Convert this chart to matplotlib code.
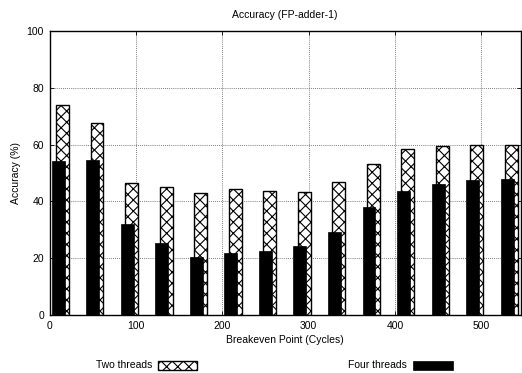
import matplotlib
matplotlib.use("Agg")
import matplotlib.pyplot as plt
from matplotlib.patches import Rectangle
import numpy as np

plt.rcParams['font.family'] = ['Liberation Sans', 'DejaVu Sans']
plt.rcParams['hatch.linewidth'] = 0.8

groups = [10, 50, 90, 130, 170, 210, 250, 290, 330, 370, 410, 450, 490, 530]
two_threads = [73.9, 67.7, 46.4, 45.0, 42.8, 44.3, 43.5, 43.2, 46.8, 53.3, 58.3, 59.4, 59.7, 59.9]
four_threads = [54.2, 54.6, 32.0, 25.4, 20.4, 21.8, 22.5, 24.4, 29.3, 38.1, 43.8, 46.1, 47.5, 47.9]
xticks = [0, 100, 200, 300, 400, 500]
yticks = [0, 20, 40, 60, 80, 100]

W, H = 522, 373
fig = plt.figure(figsize=(W / 100, H / 100), dpi=100)
ax = fig.add_axes([49.5 / W, (H - 315) / H, (521 - 49.5) / W, (315 - 31) / H])

x = np.array(groups, dtype=float)
bw = 15
ax.bar(x + 5, two_threads, width=bw, color='white', edgecolor='black',
       hatch='xxx', linewidth=1.0, zorder=2)
ax.bar(x, four_threads, width=bw, color='black', edgecolor='black',
       linewidth=0.5, zorder=3)

ax.set_xlim(0, 546)
ax.set_ylim(0, 100)
ax.set_xticks(xticks)
ax.set_yticks(yticks)
ax.grid(True, linestyle=(0, (1, 1.5)), color='#555555', linewidth=0.6, zorder=0)
ax.tick_params(direction='in', length=3, width=0.6, labelsize=7.5,
               top=True, right=True, pad=4)
for s in ax.spines.values():
    s.set_linewidth(1.0)

ax.set_title('Accuracy (FP-adder-1)', fontsize=7.5, pad=9)
ax.set_xlabel('Breakeven Point (Cycles)', fontsize=7.5, labelpad=3)
ax.set_ylabel('Accuracy (%)', fontsize=7.5, labelpad=4)

# legend drawn at bottom
def fx(px):
    return px / W

def fy(py):
    return (H - py) / H

fig.text(fx(152), fy(365.5), 'Two threads', fontsize=7.5, ha='right', va='center')
fig.add_artist(Rectangle((fx(157.5), fy(370)), fx(197) - fx(157.5), fy(361) - fy(370),
                         transform=fig.transFigure, facecolor='white', edgecolor='black',
                         hatch='xxx', linewidth=1.0))
fig.text(fx(407), fy(365.5), 'Four threads', fontsize=7.5, ha='right', va='center')
fig.add_artist(Rectangle((fx(413), fy(370)), fx(453) - fx(413), fy(361) - fy(370),
                         transform=fig.transFigure, facecolor='black', edgecolor='black',
                         linewidth=0.5))

fig.savefig('out.png', dpi=100)
